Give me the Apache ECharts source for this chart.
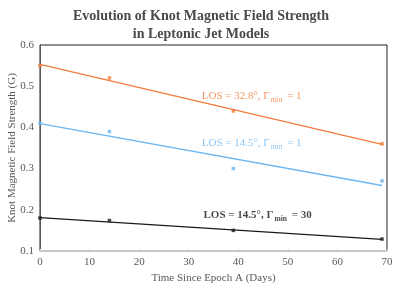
<!DOCTYPE html>
<html><head><meta charset="utf-8">
<script src="https://cdn.jsdelivr.net/npm/echarts@6/dist/echarts.min.js"></script>
<style>html,body{margin:0;padding:0;background:#fff}#c{width:399px;height:289px}</style>
</head><body><div id="c"></div>
<script>
const days = [0, 14, 39, 69];
const los328g1 = [0.55, 0.52, 0.44, 0.36];
const los145g1 = [0.41, 0.39, 0.30, 0.27];
const los145g30 = [0.18, 0.174, 0.15, 0.129];
// trend line endpoints
const trendX = [0, 69];
const trend328g1 = [0.553, 0.359];
const trend145g1 = [0.409, 0.259];
const trend145g30 = [0.181, 0.128];
// label anchor points (data coordinates)
const labelPos = {
  orange: [42.7, 0.476],
  blue: [42.7, 0.362],
  black: [43.9, 0.186]
};

const ORANGE = '#f07b3a', BLUE = '#6cb6f2', BLACK = '#1a1a1a';
const FONT = '"Liberation Serif", "Times New Roman", serif';
const zip = (xs, ys) => xs.map((x, i) => [x, ys[i]]);

function pts(name, ys, color) {
  return { name, type: 'scatter', data: zip(days, ys), symbol: 'rect', symbolSize: 3.5,
    itemStyle: { color }, z: 5, silent: true };
}
function trend(ys, color) {
  return { type: 'line', data: zip(trendX, ys), symbol: 'none', lineStyle: { color, width: 1.3 },
    silent: true, z: 4 };
}
function lbl(pos, color, gval, bold) {
  const fw = bold ? 'bold' : 'normal';
  return { type: 'scatter', data: [pos], symbolSize: 0, silent: true, z: 6,
    label: { show: true, position: 'inside',
      formatter: '{a|LOS = ' + (color === ORANGE ? '32.8' : '14.5') + '°, Γ}{s|min}{a| = ' + gval + '}',
      rich: {
        a: { fontFamily: FONT, fontSize: 11, color, fontWeight: fw },
        s: { fontFamily: FONT, fontSize: 7.5, color, fontWeight: fw, padding: [7, 2, 0, 1] }
      } } };
}

const chart = echarts.init(document.getElementById('c'), null, { renderer: 'canvas' });
chart.setOption({
  animation: false,
  title: {
    text: 'Evolution of Knot Magnetic Field Strength\nin Leptonic Jet Models',
    left: 196, textAlign: 'center', top: 2,
    textStyle: { fontFamily: FONT, fontSize: 14, fontWeight: 'bold', color: '#4a4a4a', lineHeight: 18 }
  },
  grid: { left: 40, right: 12, top: 45, bottom: 38, show: true, borderColor: '#222', borderWidth: 1,
    containLabel: false, outerBoundsMode: 'none' },
  xAxis: {
    type: 'value', min: 0, max: 70, interval: 10,
    name: 'Time Since Epoch A (Days)', nameLocation: 'middle', nameGap: 22, nameMoveOverlap: false,
    nameTextStyle: { fontFamily: FONT, fontSize: 11, color: '#595959' },
    axisLine: { show: true, onZero: false, lineStyle: { color: '#c8c8c8', width: 2 } },
    axisTick: { show: true, inside: true, length: 2, lineStyle: { color: '#d0d0d0' } },
    axisLabel: { fontFamily: FONT, fontSize: 11, color: '#595959', margin: 6 },
    splitLine: { show: false }
  },
  yAxis: {
    type: 'value', min: 0.1, max: 0.6, interval: 0.1,
    name: 'Knot Magnetic Field Strength (G)', nameLocation: 'middle', nameGap: 22, nameMoveOverlap: false,
    nameTextStyle: { fontFamily: FONT, fontSize: 11, color: '#595959' },
    axisLine: { show: true, lineStyle: { color: '#595959', width: 1 } },
    axisTick: { show: false },
    axisLabel: { fontFamily: FONT, fontSize: 11, color: '#595959', margin: 6,
      formatter: v => v.toFixed(1) },
    splitLine: { show: false }
  },
  series: [
    trend(trend328g1, ORANGE), trend(trend145g1, BLUE), trend(trend145g30, BLACK),
    pts('LOS = 32.8°, Γmin = 1', los328g1, ORANGE),
    pts('LOS = 14.5°, Γmin = 1', los145g1, BLUE),
    pts('LOS = 14.5°, Γmin = 30', los145g30, BLACK),
    lbl(labelPos.orange, ORANGE, '1', false),
    lbl(labelPos.blue, BLUE, '1', false),
    lbl(labelPos.black, BLACK, '30', true)
  ]
});
</script></body></html>
